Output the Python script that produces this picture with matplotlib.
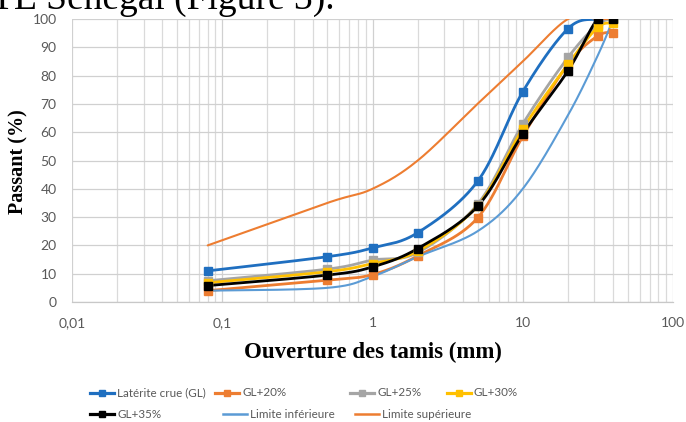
import numpy as np
import matplotlib
matplotlib.use("Agg")
import matplotlib.pyplot as plt
from matplotlib.lines import Line2D
from matplotlib.ticker import FixedLocator, NullFormatter, LogLocator

# Sieve openings (mm) and percent passing for each mix
sieves = [0.08, 0.5, 1, 2, 5, 10, 20, 31.5, 40]
laterite = [11.0, 16.0, 19.1, 24.5, 42.6, 74.3, 96.6, 100, 100]
gl20 = [4.0, 7.7, 9.7, 16.3, 29.7, 58.5, 84.0, 94.0, 95.2]
gl25 = [7.5, 11.6, 14.8, 17.5, 34.5, 62.9, 86.4, 98.0, 100]
gl30 = [6.8, 10.7, 13.6, 18.0, 34.0, 61.2, 84.0, 97.0, 98.5]
gl35 = [5.8, 9.5, 12.4, 18.9, 33.8, 59.4, 81.7, 100, 100]
lim_inf = [4, 5, 9, 16, 25, 40, 66, 87, 100]
lim_sup = [20, 35, 40, 50, 70, 85, 100, 100, 100]

x_ticks = [0.01, 0.1, 1, 10, 100]
x_tick_labels = ["0,01", "0,1", "1", "10", "100"]
y_ticks = list(range(0, 101, 10))

series = [
    ("Latérite crue (GL)", laterite, "#1F6FC0", True, 2.0),
    ("GL+20%", gl20, "#ED7D31", True, 2.0),
    ("GL+25%", gl25, "#A5A5A5", True, 2.0),
    ("GL+30%", gl30, "#FFC000", True, 2.0),
    ("GL+35%", gl35, "#000000", True, 2.0),
    ("Limite inférieure", lim_inf, "#5B9BD5", False, 1.5),
    ("Limite supérieure", lim_sup, "#ED7D31", False, 1.5),
]


def smooth(x, y, n=30):
    """Spreadsheet-style smoothed line: cubic Bezier segments with
    Catmull-Rom control points, built in (log10 x, y) space."""
    lx = np.log10(np.asarray(x, float))
    y = np.asarray(y, float)
    px = np.concatenate([[lx[0]], lx, [lx[-1]]])
    py = np.concatenate([[y[0]], y, [y[-1]]])
    t = np.linspace(0, 1, n)[:, None]
    out_x, out_y = [], []
    for i in range(1, len(px) - 2):
        p0 = np.array([px[i], py[i]])
        p3 = np.array([px[i + 1], py[i + 1]])
        c1 = p0 + (np.array([px[i + 1], py[i + 1]]) - np.array([px[i - 1], py[i - 1]])) / 6
        c2 = p3 - (np.array([px[i + 2], py[i + 2]]) - np.array([px[i], py[i]])) / 6
        b = ((1 - t) ** 3) * p0 + 3 * ((1 - t) ** 2) * t * c1 + 3 * (1 - t) * t ** 2 * c2 + t ** 3 * p3
        out_x.append(b[:, 0])
        out_y.append(b[:, 1])
    return 10 ** np.concatenate(out_x), np.concatenate(out_y)


W, H = 686, 422
fig = plt.figure(figsize=(W / 100, H / 100), dpi=100)
ax = fig.add_axes([72 / W, 1 - 302 / H, (673 - 72) / W, (302 - 19) / H])

ax.set_xscale("log")
ax.set_xlim(0.01, 100)
ax.set_ylim(0, 100)

ax.xaxis.set_major_locator(FixedLocator(x_ticks))
ax.xaxis.set_minor_locator(LogLocator(base=10, subs=np.arange(2, 10)))
ax.xaxis.set_minor_formatter(NullFormatter())
ax.set_xticklabels(x_tick_labels)
ax.set_yticks(y_ticks)

ax.grid(True, which="major", axis="both", color="#D0D0D0", lw=0.9)
ax.grid(True, which="minor", axis="x", color="#DADADA", lw=0.9)
ax.set_axisbelow(True)
for s in ["top", "right", "left"]:
    ax.spines[s].set_visible(False)
ax.spines["bottom"].set_color("#C8C8C8")
ax.spines["bottom"].set_linewidth(0.9)

ax.tick_params(which="both", length=0)
ax.tick_params(axis="x", pad=11, labelsize=10, labelcolor="#595959")
ax.tick_params(axis="y", pad=11, labelsize=10, labelcolor="#595959")
for lab in ax.get_xticklabels() + ax.get_yticklabels():
    lab.set_fontfamily("Lato")

for name, vals, color, has_marker, lw in series:
    sx, sy = smooth(sieves, vals)
    ax.plot(sx, sy, color=color, lw=lw, solid_capstyle="round", zorder=3)
    if has_marker:
        ax.plot(sieves, vals, ls="none", marker="s", ms=5.5, color=color, zorder=4)

# Axis titles
fig.text(18 / W, 1 - 162 / H, "Passant (%)", rotation=90, ha="center", va="center",
         fontfamily="Liberation Serif", fontweight="bold", fontsize=14.5)
fig.text(373 / W, 1 - 352 / H, "Ouverture des tamis (mm)", ha="center", va="center",
         fontfamily="Liberation Serif", fontweight="bold", fontsize=16.5)

# Caption line running above the chart
fig.text(-9 / W, 1 - 9 / H, "TE Senegal (Figure 3).", ha="left", va="baseline",
         fontfamily="Liberation Serif", fontsize=27)

# Legend, two rows laid out by hand
legend_pos = [
    (90, 393), (215, 393), (350, 393), (447, 393),
    (90, 414), (223, 414), (355, 414),
]
for (name, vals, color, has_marker, lw), (lx, ly) in zip(series, legend_pos):
    yy = 1 - ly / H
    fig.add_artist(Line2D([lx / W, (lx + 24) / W], [yy, yy], color=color, lw=lw + 0.3,
                          transform=fig.transFigure))
    if has_marker:
        fig.add_artist(Line2D([(lx + 12) / W], [yy], marker="s", ms=5, color=color,
                              transform=fig.transFigure))
    fig.text((lx + 27) / W, yy, name, ha="left", va="center", fontfamily="Lato",
             fontsize=8.4, color="#595959")

fig.savefig("out.png", dpi=100)
